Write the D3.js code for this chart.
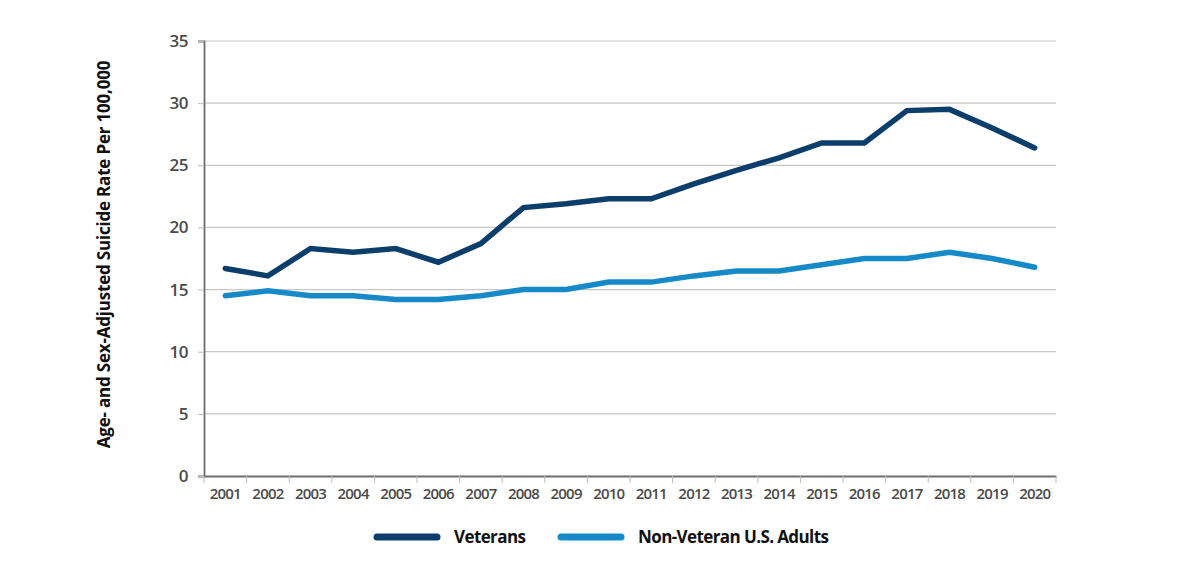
<!DOCTYPE html>
<html>
<head>
<meta charset="utf-8">
<script src="https://cdn.jsdelivr.net/npm/d3@7"></script>
<style>
  body { margin: 0; background: #fff; }
  text { font-family: "Open Sans", "DejaVu Sans Condensed", sans-serif; }
</style>
</head>
<body>
<div id="chart"></div>
<script>
const width = 1181;
const height = 583;
const margin = { top: 41, right: 125, bottom: 107, left: 204 };

const years = ["2001", "2002", "2003", "2004", "2005", "2006", "2007", "2008", "2009", "2010",
  "2011", "2012", "2013", "2014", "2015", "2016", "2017", "2018", "2019", "2020"];
const veterans = [16.7, 16.1, 18.3, 18.0, 18.3, 17.2, 18.7, 21.6, 21.9, 22.3,
  22.3, 23.5, 24.6, 25.6, 26.8, 26.8, 29.4, 29.5, 28.0, 26.4];
const nonVeterans = [14.5, 14.9, 14.5, 14.5, 14.2, 14.2, 14.5, 15.0, 15.0, 15.6,
  15.6, 16.1, 16.5, 16.5, 17.0, 17.5, 17.5, 18.0, 17.5, 16.8];
const yTicks = [0, 5, 10, 15, 20, 25, 30, 35];
const seriesNames = ["Veterans", "Non-Veteran U.S. Adults"];
const colors = ["#0c3e6c", "#1689c9"];

const svg = d3.select("#chart")
  .append("svg")
  .attr("width", width)
  .attr("height", height);

const innerW = width - margin.left - margin.right;
const innerH = height - margin.top - margin.bottom;

const x = d3.scaleBand().domain(years).range([0, innerW]);
const y = d3.scaleLinear().domain([0, 35]).range([innerH, 0]);

const g = svg.append("g")
  .attr("transform", "translate(" + margin.left + "," + margin.top + ")");

// grid lines
g.selectAll(".grid")
  .data(yTicks.filter(d => d > 0))
  .enter()
  .append("line")
  .attr("x1", 0)
  .attr("x2", innerW)
  .attr("y1", d => y(d))
  .attr("y2", d => y(d))
  .attr("stroke", "#c8c8c8")
  .attr("stroke-width", 1.2);

// y axis
const yAxis = g.append("g")
  .call(d3.axisLeft(y).tickValues(yTicks).tickSize(6).tickPadding(10));
yAxis.select(".domain").attr("stroke", "#6d6d6d").attr("stroke-width", 1.8);
yAxis.selectAll(".tick line").attr("stroke", "#bbbbbb");
yAxis.selectAll(".tick text")
  .attr("fill", "#4a4a4a")
  .style("font-size", "17px")
  .style("font-weight", "600")
  .style("letter-spacing", "-0.5px");

// x axis
const xAxis = g.append("g")
  .attr("transform", "translate(0," + innerH + ")")
  .call(d3.axisBottom(x).tickSize(0).tickPadding(12));
xAxis.select(".domain").attr("stroke", "#6d6d6d").attr("stroke-width", 2.2);
xAxis.selectAll(".tick text")
  .attr("fill", "#4a4a4a")
  .style("font-size", "15px")
  .style("font-weight", "600")
  .style("letter-spacing", "-0.8px");

// x boundary ticks
g.selectAll(".xtick")
  .data(years.concat(["end"]))
  .enter()
  .append("line")
  .attr("x1", (d, i) => i * x.step())
  .attr("x2", (d, i) => i * x.step())
  .attr("y1", innerH)
  .attr("y2", innerH + 7)
  .attr("stroke", "#bbbbbb");

// lines
const line = d3.line()
  .x((d, i) => x(years[i]) + x.bandwidth() / 2)
  .y(d => y(d));

g.selectAll(".series")
  .data([veterans, nonVeterans])
  .enter()
  .append("path")
  .attr("fill", "none")
  .attr("stroke", (d, i) => colors[i])
  .attr("stroke-width", 5.5)
  .attr("stroke-linejoin", "miter")
  .attr("stroke-linecap", "round")
  .attr("d", line);

// y axis title
svg.append("text")
  .attr("transform", "translate(110," + (margin.top + innerH / 2 - 4) + ") rotate(-90)")
  .attr("text-anchor", "middle")
  .attr("fill", "#111")
  .style("font-size", "17px")
  .style("font-weight", "bold")
  .style("letter-spacing", "-0.2px")
  .text("Age- and Sex-Adjusted Suicide Rate Per 100,000");

// legend
const legendX = [377, 561];
const legend = svg.selectAll(".legend")
  .data(seriesNames)
  .enter()
  .append("g")
  .attr("transform", (d, i) => "translate(" + legendX[i] + ",537)");
legend.append("line")
  .attr("x1", 0)
  .attr("x2", 60)
  .attr("stroke", (d, i) => colors[i])
  .attr("stroke-width", 7)
  .attr("stroke-linecap", "round");
legend.append("text")
  .attr("x", 77)
  .attr("y", 6)
  .attr("fill", "#111")
  .style("font-size", "17px")
  .style("font-weight", "bold")
  .style("letter-spacing", "-0.6px")
  .text(d => d);
</script>
</body>
</html>
